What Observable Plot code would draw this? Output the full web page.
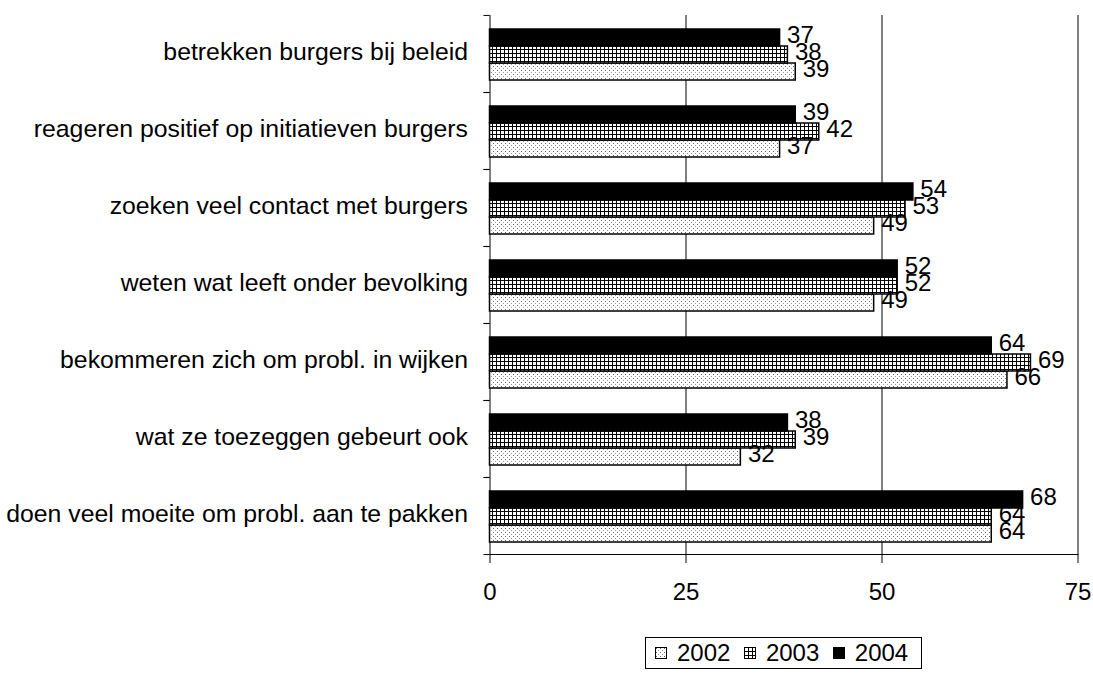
<!DOCTYPE html>
<html>
<head>
<meta charset="utf-8">
<script src="https://cdn.jsdelivr.net/npm/d3@7"></script>
<script src="https://cdn.jsdelivr.net/npm/@observablehq/plot@0.6"></script>
<style>
  html, body { margin: 0; padding: 0; background: #fff; }
  body { width: 1093px; height: 675px; overflow: hidden; font-family: "Liberation Sans", Arial, sans-serif; }
  #chart svg { display: block; }
  #legend {
    box-sizing: border-box;
    margin-top: 17px; margin-left: 645px;
    width: 277px; height: 32px;
    border: 1px solid #000;
    display: flex; align-items: center;
    padding-left: 9px;
    font-size: 24px; color: #000;
  }
  #legend .item { display: flex; align-items: center; margin-right: 13.5px; }
  #legend svg { display: block; margin-right: 10px; }
</style>
</head>
<body>
<svg width="0" height="0" style="position:absolute">
  <defs>
    <pattern id="pDots" width="4" height="4" patternUnits="userSpaceOnUse">
      <rect width="4" height="4" fill="#fff"/>
      <rect x="1" y="1" width="1" height="1" fill="#666"/>
      <rect x="3" y="3" width="1" height="1" fill="#999"/>
    </pattern>
    <pattern id="pGrid" width="4" height="4" patternUnits="userSpaceOnUse">
      <rect width="4" height="4" fill="#fff"/>
      <rect width="1" height="4" fill="#000"/>
      <rect width="4" height="1" fill="#000"/>
    </pattern>
  </defs>
</svg>
<div id="chart"></div>
<div id="legend"></div>
<script>
const categories = [
  "betrekken burgers bij beleid",
  "reageren positief op initiatieven burgers",
  "zoeken veel contact met burgers",
  "weten wat leeft onder bevolking",
  "bekommeren zich om probl. in wijken",
  "wat ze toezeggen gebeurt ook",
  "doen veel moeite om probl. aan te pakken"
];
const years = ["2002", "2003", "2004"];
const v2002 = [39, 37, 49, 49, 66, 32, 64];
const v2003 = [38, 42, 53, 52, 69, 39, 64];
const v2004 = [37, 39, 54, 52, 64, 38, 68];
const xTicks = [0, 25, 50, 75];
const fills = ["url(#pDots)", "url(#pGrid)", "#000"];

const series = {"2002": v2002, "2003": v2003, "2004": v2004};
const data = [];
categories.forEach((cat, i) => {
  years.forEach(year => data.push({cat, year, value: series[year][i]}));
});

const width = 1093, height = 620;
const marginTop = 14, marginBottom = 66, marginLeft = 489.5, marginRight = 15.5;
const band = (height - marginTop - marginBottom) / categories.length;

const chart = Plot.plot({
  width, height, marginTop, marginBottom, marginLeft, marginRight,
  style: {fontFamily: "Liberation Sans, Arial, sans-serif", fontSize: "24px", color: "#000", background: "#fff"},
  x: {domain: [0, 75], axis: null},
  y: {domain: [...years].reverse(), paddingInner: 0, paddingOuter: 0.68, align: 0.55, axis: null},
  fy: {domain: categories, padding: 0, axis: null},
  color: {type: "ordinal", domain: years, range: fills},
  marks: [
    Plot.ruleX(xTicks.slice(1), {stroke: "#000", strokeWidth: 1}),
    Plot.ruleX([0], {stroke: "#000", strokeWidth: 1}),
    Plot.frame({anchor: "bottom", facetAnchor: "bottom", stroke: "#000"}),
    Plot.barX(data, {x: "value", y: "year", fy: "cat", fill: "year", stroke: "#000", strokeWidth: 1.5}),
    Plot.text(data, {x: "value", y: "year", fy: "cat", text: d => String(d.value), dx: 7, dy: -3, textAnchor: "start", fill: "#000"}),
    Plot.axisFy({anchor: "left", tickSize: 0, tickPadding: 22, label: null, dy: -2, fontSize: 24.8}),
    Plot.axisFy({anchor: "left", tickSize: 6, tickFormat: () => "", label: null, dy: -band / 2}),
    Plot.axisFy([categories[categories.length - 1]], {anchor: "left", tickSize: 6, tickFormat: () => "", label: null, dy: band / 2}),
    Plot.axisX({anchor: "bottom", ticks: xTicks, tickSize: 9, tickPadding: 19, label: null})
  ]
});
document.getElementById("chart").appendChild(chart);

const legend = document.getElementById("legend");
years.forEach((y, i) => {
  const item = document.createElement("div");
  item.className = "item";
  item.innerHTML = `<svg width="12" height="12"><rect x="0.5" y="0.5" width="11" height="11" fill="${fills[i]}" stroke="#000" stroke-width="1"/></svg><span>${y}</span>`;
  legend.appendChild(item);
});
</script>
</body>
</html>
